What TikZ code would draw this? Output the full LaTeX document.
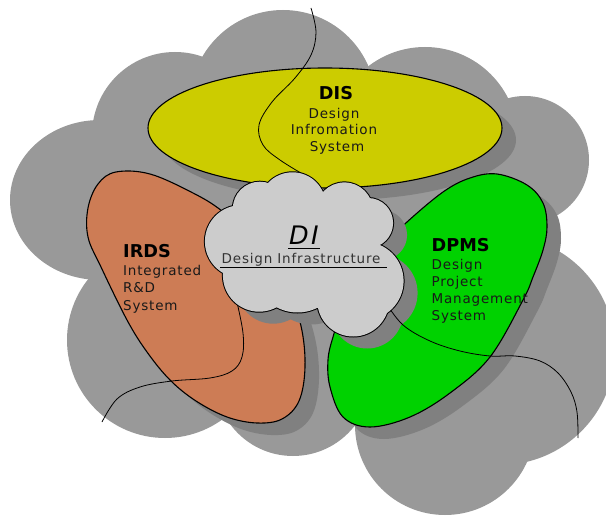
\documentclass[tikz,border=0pt]{standalone}
\usepackage{fontspec}
\setmainfont{DejaVu Sans}
\newfontfamily\titfont{DejaVu Sans}
\newfontfamily\subfont[LetterSpace=6]{DejaVu Sans}
\newfontfamily\difont[LetterSpace=9]{DejaVu Sans}
\definecolor{blobc}{HTML}{999999}
\definecolor{shadc}{HTML}{808080}
\definecolor{disc}{HTML}{CCCC00}
\definecolor{irdsc}{RGB}{205,124,85}
\definecolor{dpmsc}{RGB}{0,210,0}
\definecolor{cloudc}{HTML}{CCCCCC}
\begin{document}
\begin{tikzpicture}[x=1pt,y=-1pt,
  title/.style={font=\titfont\bfseries\fontsize{17.7}{20}\selectfont, inner sep=0pt, text=black},
  sub/.style={font=\subfont\fontsize{13.5}{16}\selectfont, inner sep=0pt, text=black!90},
  outl/.style={draw=black, line width=1.1pt},
  curve/.style={draw=black, line width=0.8pt}]
\useasboundingbox (0,0) rectangle (606,516);

% ---------- grey background blob ----------
\foreach \cx/\cy/\r in {283/103/93, 425/140/93, 525/160/64, 500/350/115,
  445/425/90, 293/378/78, 165/340/98, 175/135/83}
  \fill[blobc] (\cx,\cy) circle[radius=\r pt];
\fill[blobc] (100,200) ellipse[x radius=90pt, y radius=80pt];
\fill[blobc] (283,103) -- (425,140) -- (525,160) -- (500,350) -- (445,425)
  -- (293,378) -- (165,340) -- (100,200) -- (175,135) -- cycle;

% ---------- shadows of the three systems ----------
\begin{scope}[shift={(14,12)}]
  \fill[shadc] (325,128) ellipse[x radius=177pt, y radius=60pt];
  \fill[shadc] plot[smooth cycle, tension=0.6] coordinates {
    (116,172) (150,174) (193,193) (222,211) (258,243) (286,284) (301,326)
    (305,367) (299,401) (282,419) (257,423) (227,417) (196,401) (170,380)
    (147,352) (127,320) (101,267) (88,237) (88,208) (98,184)};
  \fill[shadc] plot[smooth cycle, tension=0.6] coordinates {
    (497,174) (527,185) (543,203) (547,227) (543,250) (533,277) (523,300)
    (490,357) (450,393) (410,417) (370,427) (343,417) (330,387) (328,360)
    (333,337) (345,302) (368,264) (390,240) (407,222) (443,192) (470,178)};
\end{scope}

% ---------- the three systems ----------
\draw[outl, fill=disc] (325,128) ellipse[x radius=177pt, y radius=60pt];
\draw[outl, fill=irdsc] plot[smooth cycle, tension=0.6] coordinates {
    (116,172) (150,174) (193,193) (222,211) (258,243) (286,284) (301,326)
    (305,367) (299,401) (282,419) (257,423) (227,417) (196,401) (170,380)
    (147,352) (127,320) (101,267) (88,237) (88,208) (98,184)};
\draw[outl, fill=dpmsc] plot[smooth cycle, tension=0.6] coordinates {
    (497,174) (527,185) (543,203) (547,227) (543,250) (533,277) (523,300)
    (490,357) (450,393) (410,417) (370,427) (343,417) (330,387) (328,360)
    (333,337) (345,302) (368,264) (390,240) (407,222) (443,192) (470,178)};

% ---------- cloud shadow ----------
\begin{scope}[shift={(14,12)}]
  \foreach \cx/\cy/\r in {241.3/241.5/36.4, 259.8/208.7/27, 292.5/205.7/33.4,
    344.4/211.1/28.7, 368.1/223/25, 364.4/281/39.2, 353.2/300.5/36,
    297.5/268/44.5, 259.2/275.4/36.3}
    \fill[shadc] (\cx,\cy) circle[radius=\r pt];
  \fill[shadc] (223,273) -- (233,206) -- (268,183) -- (323,192) -- (370,198)
    -- (380,245) -- (387,313) -- (318,308) -- (277,307) -- cycle;
\end{scope}

% ---------- free curves ----------
\coordinate (topA) at (311,8);
\coordinate (leftB) at (102,422);
\coordinate (rightB) at (578,438);
\draw[curve] plot[smooth, tension=0.6] coordinates {
  (311,8) (316,32) (311,55) (295,78) (272,102) (259,125) (263,145)
  (280,160) (306,176)};
\draw[curve] plot[smooth, tension=0.6] coordinates {
  (236,298) (243,333) (242,357) (232,371) (210,378) (172,381) (140,387)
  (117,399) (102,422)};
\draw[curve] plot[smooth, tension=0.6] coordinates {
  (386,303) (403,325) (430,341) (460,351) (490,356) (515,356) (540,361)
  (558,373) (571,392) (577,412) (578,438)};

% ---------- central cloud ----------
\foreach \cx/\cy/\r in {241.3/241.5/36.4, 259.8/208.7/27, 292.5/205.7/33.4,
  344.4/211.1/28.7, 368.1/223/25, 364.4/281/39.2, 353.2/300.5/36,
  297.5/268/44.5, 259.2/275.4/36.3}
  \draw[black, line width=2pt] (\cx,\cy) circle[radius=\r pt];
\fill[cloudc] (223,273) -- (233,206) -- (268,183) -- (323,192) -- (370,198)
  -- (380,245) -- (387,313) -- (318,308) -- (277,307) -- cycle;
\foreach \cx/\cy/\r in {241.3/241.5/36.4, 259.8/208.7/27, 292.5/205.7/33.4,
  344.4/211.1/28.7, 368.1/223/25, 364.4/281/39.2, 353.2/300.5/36,
  297.5/268/44.5, 259.2/275.4/36.3}
  \fill[cloudc] (\cx,\cy) circle[radius=\r pt];

% ---------- texts ----------
\node[title, anchor=base] (dis) at (336,100) {DIS};
\node[sub, anchor=base] (dis1) at (334,118.3) {Design};
\node[sub, anchor=base] (dis2) at (334,135) {Infromation};
\node[sub, anchor=base] (dis3) at (337,151.7) {System};

\node[title, anchor=base west] (irds) at (123,258) {IRDS};
\node[sub, anchor=base west] (irds1) at (123,276) {Integrated};
\node[sub, anchor=base west] (irds2) at (123,293) {R\&D};
\node[sub, anchor=base west] (irds3) at (123,310) {System};

\node[title, anchor=base west] (dpms) at (431.5,251.7) {DPMS};
\node[sub, anchor=base west] (dpms1) at (431.5,269.3) {Design};
\node[sub, anchor=base west] (dpms2) at (431.5,286.7) {Project};
\node[sub, anchor=base west] (dpms3) at (431.5,304) {Management};
\node[sub, anchor=base west] (dpms4) at (431.5,320.7) {System};

\node[anchor=base west, inner sep=0pt, text=black,
  font=\difont\itshape\fontsize{25.5}{28}\selectfont] (di) at (289,245) {DI};
\draw[line width=1.8pt] (288,248.5) -- (319.5,248.5);
\node[sub, text=black!80, anchor=base west] (dinf) at (221.5,264) {Design Infrastructure};
\draw[line width=0.9pt] (220,267) -- (387,267);
\end{tikzpicture}
\end{document}
